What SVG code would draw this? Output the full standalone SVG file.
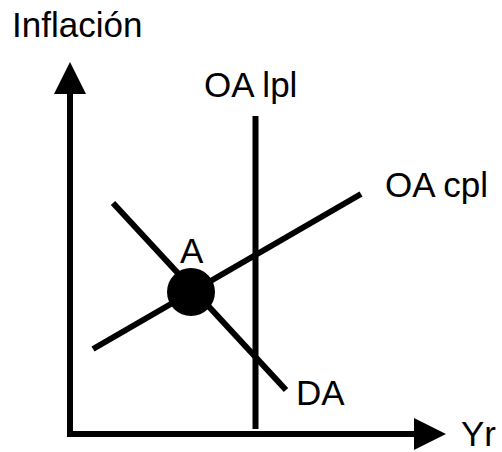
<svg xmlns="http://www.w3.org/2000/svg" width="502" height="452" viewBox="0 0 502 452">
<style>
.ln{stroke:#000;stroke-width:6;fill:none}
.t{font-family:"Liberation Sans",Arial,sans-serif;font-size:35px;fill:#000}
</style>
<rect width="502" height="452" fill="#fff"/>
<g id="axes">
<line class="ln" x1="70" y1="434" x2="70" y2="90"/>
<polygon points="70,62 54,94 86,94" fill="#000"/>
<line class="ln" x1="67" y1="434" x2="415" y2="434"/>
<polygon points="446,434 414,418 414,450" fill="#000"/>
</g>
<g id="connectors">
<line class="ln" x1="255.5" y1="116" x2="255.5" y2="429"/>
<line class="ln" x1="113" y1="203" x2="286" y2="390"/>
<line class="ln" x1="93" y1="349" x2="361" y2="194"/>
</g>
<g id="pointA"><circle cx="191" cy="292" r="24" fill="#000"/><text class="t" x="180" y="263">A</text></g>
<g id="labels">
<text class="t" x="12" y="37">Inflación</text>
<text class="t" x="204" y="97">OA lpl</text>
<text class="t" x="385" y="197">OA cpl</text>
<text class="t" x="296" y="405">DA</text>
<text class="t" x="461" y="446">Yr</text>
</g>
</svg>
